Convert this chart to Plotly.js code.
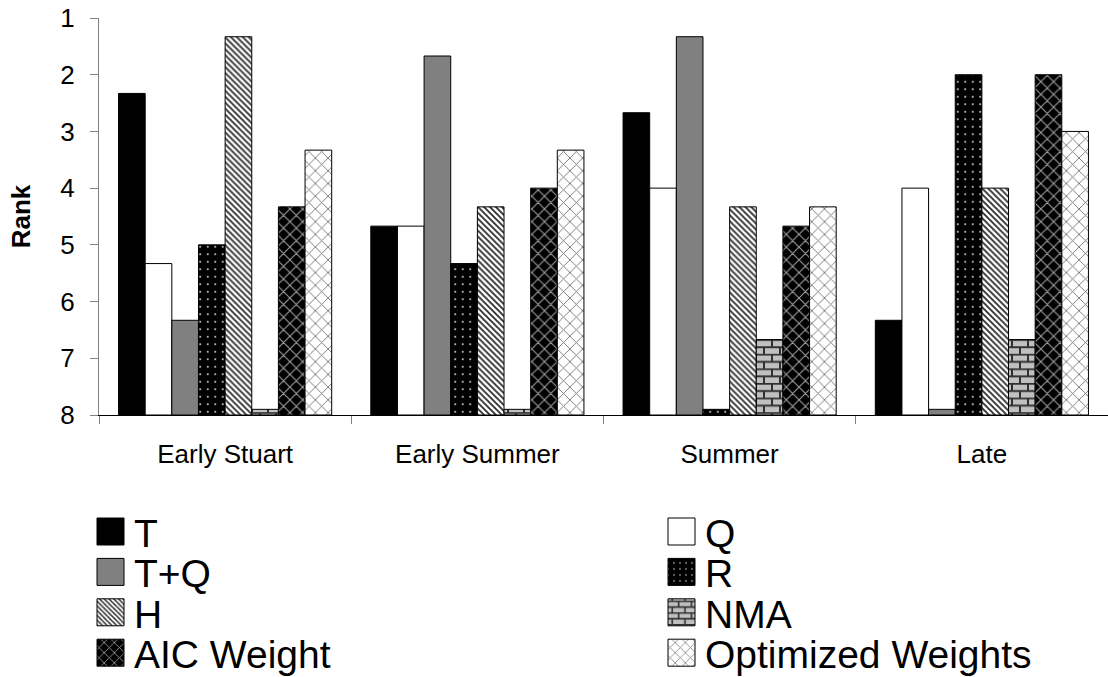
<!DOCTYPE html>
<html>
<head>
<meta charset="utf-8">
<script src="https://cdn.plot.ly/plotly-3.0.1.min.js"></script>
<style>
  html, body { margin: 0; padding: 0; background: #ffffff; overflow: hidden; }
  #chart { width: 1108px; height: 677px; }
</style>
</head>
<body>
<div id="chart"></div>
<script>
// Runs (season groups) on the category axis
const runs = ['Early Stuart', 'Early Summer', 'Summer', 'Late'];

// Mean rank of each model per run (1 = best, 8 = worst)
const rankT       = [2.33, 4.67, 2.67, 6.33];
const rankQ       = [5.33, 4.67, 4.00, 4.00];
const rankTQ      = [6.33, 1.67, 1.33, 7.90];
const rankR       = [5.00, 5.33, 7.90, 2.00];
const rankH       = [1.33, 4.33, 4.33, 4.00];
const rankNMA     = [7.90, 7.90, 6.67, 6.67];
const rankAIC     = [4.33, 4.00, 4.67, 2.00];
const rankOpt     = [3.33, 3.33, 4.33, 3.00];

const seriesNames = ['T', 'Q', 'T+Q', 'R', 'H', 'NMA', 'AIC Weight', 'Optimized Weights'];
const seriesRanks = [rankT, rankQ, rankTQ, rankR, rankH, rankNMA, rankAIC, rankOpt];

// Worst rank: bars hang from here up to each model's rank
const worstRank = 8;

const FONT = 'Arial, "Liberation Sans", sans-serif';

// Fill style of each model's bars
const styles = [
  { color: '#000000' },
  { color: '#ffffff' },
  { color: '#808080' },
  { color: '#000000', pattern: { shape: '.', bgcolor: '#000000', fgcolor: '#e8e8e8', size: 7.5, solidity: 0.05, fillmode: 'replace' } },
  { color: '#ffffff', pattern: { shape: '\\', bgcolor: '#ffffff', fgcolor: '#303030', size: 4.2, solidity: 0.45, fillmode: 'replace' } },
  { color: '#c0c0c0', pattern: { shape: '+', bgcolor: '#c0c0c0', fgcolor: '#303030', size: 8, solidity: 0.15, fillmode: 'replace' } },
  { color: '#000000', pattern: { shape: 'x', bgcolor: '#000000', fgcolor: '#a0a0a0', size: 9, solidity: 0.22, fillmode: 'replace' } },
  { color: '#ffffff', pattern: { shape: 'x', bgcolor: '#ffffff', fgcolor: '#7a7a7a', size: 9, solidity: 0.2, fillmode: 'replace' } }
];

const traces = seriesNames.map((name, i) => {
  const marker = { color: styles[i].color, line: { color: '#000000', width: 1 } };
  if (styles[i].pattern) marker.pattern = styles[i].pattern;
  return {
    type: 'bar',
    name: name,
    x: runs,
    y: seriesRanks[i].map(v => v - worstRank),
    base: worstRank,
    marker: marker,
    hoverinfo: 'skip'
  };
});

const layout = {
  width: 1108,
  height: 677,
  margin: { l: 99, r: 0, t: 18, b: 262, autoexpand: false },
  paper_bgcolor: '#ffffff',
  plot_bgcolor: '#ffffff',
  font: { family: FONT, color: '#000000', size: 26 },
  barmode: 'group',
  bargap: 0.155,
  bargroupgap: 0,
  showlegend: true,
  xaxis: {
    type: 'category',
    categoryorder: 'array',
    categoryarray: runs,
    showline: true,
    linecolor: '#000000',
    linewidth: 1,
    ticks: 'outside',
    tickson: 'boundaries',
    ticklen: 8,
    tickcolor: '#808080',
    tickwidth: 1,
    ticklabelstandoff: 16,
    showgrid: false,
    zeroline: false,
    automargin: false,
    tickfont: { family: FONT, size: 26, color: '#000000' },
    fixedrange: true
  },
  yaxis: {
    range: [8, 1],
    tickmode: 'linear',
    tick0: 1,
    dtick: 1,
    showline: true,
    linecolor: '#808080',
    linewidth: 1,
    ticks: 'outside',
    ticklen: 8,
    tickcolor: '#808080',
    tickwidth: 1,
    ticklabelstandoff: 10,
    showgrid: false,
    zeroline: false,
    automargin: false,
    tickfont: { family: FONT, size: 26, color: '#000000' },
    title: { text: '<b>Rank</b>', font: { family: FONT, size: 26, color: '#000000' }, standoff: 22 },
    fixedrange: true
  },
  legend: {
    orientation: 'h',
    x: 0,
    xanchor: 'left',
    y: 1,
    yanchor: 'top',
    bgcolor: 'rgba(0,0,0,0)',
    borderwidth: 0,
    font: { family: FONT, size: 39, color: '#000000' },
    entrywidth: 0.5,
    entrywidthmode: 'fraction',
    itemclick: false,
    itemdoubleclick: false
  }
};

// Brick tile used for the NMA bars and swatch
function brickify(patternEl) {
  const ns = 'http://www.w3.org/2000/svg';
  const w = 16, h = 14.6;
  patternEl.setAttribute('width', w);
  patternEl.setAttribute('height', h);
  patternEl.setAttribute('patternUnits', 'userSpaceOnUse');
  while (patternEl.firstChild) patternEl.removeChild(patternEl.firstChild);
  const bg = document.createElementNS(ns, 'rect');
  bg.setAttribute('width', w); bg.setAttribute('height', h);
  bg.setAttribute('fill', '#c0c0c0');
  patternEl.appendChild(bg);
  const mortar = document.createElementNS(ns, 'path');
  mortar.setAttribute('d',
    'M0,0.8H' + w + 'M0,' + (h / 2 + 0.8) + 'H' + w +
    'M1,0V' + (h / 2) + 'M' + (w / 2 + 1) + ',' + (h / 2) + 'V' + h);
  mortar.setAttribute('stroke', '#303030');
  mortar.setAttribute('stroke-width', 2);
  mortar.setAttribute('fill', 'none');
  patternEl.appendChild(mortar);
}

function patternOf(el) {
  const f = (el.style && el.style.fill) || el.getAttribute('fill') || '';
  const m = f.match(/#([^'")]+)/);
  return m ? document.getElementById(m[1]) : null;
}

const gd = document.getElementById('chart');
Plotly.newPlot(gd, traces, layout, { displayModeBar: false }).then(() => {
  // bricks on the NMA bars
  const barTraces = gd.querySelectorAll('.barlayer .trace');
  const nmaIdx = seriesNames.indexOf('NMA');
  if (barTraces[nmaIdx]) {
    barTraces[nmaIdx].querySelectorAll('path').forEach(p => {
      const pat = patternOf(p);
      if (pat) brickify(pat);
    });
  }

  // two-column legend below the axis, with large square swatches
  const items = gd.querySelectorAll('.legend .traces');
  const scroll = gd.querySelector('.legend .scrollbox');
  if (scroll) scroll.removeAttribute('clip-path');
  const legendBg = gd.querySelector('.legend .bg');
  if (legendBg) legendBg.style.display = 'none';
  const colStep = 571, rowStep = 40.4;
  items.forEach((g, i) => {
    const col = i % 2, row = Math.floor(i / 2);
    g.setAttribute('transform', 'translate(' + (col * colStep) + ',' + (row * rowStep) + ')');
    const sw = g.querySelector('.legendpoints path');
    if (sw) {
      sw.setAttribute('transform', '');
      sw.setAttribute('d', 'M3,-13.5H30V13.5H3Z');
      sw.style.strokeWidth = '1px';
      sw.style.stroke = '#000000';
      if (i === nmaIdx) {
        const pat = patternOf(sw);
        if (pat) brickify(pat);
      }
    }
  });
  if (items.length) {
    const r = items[0].querySelector('.legendpoints path').getBoundingClientRect();
    const dx = 97 - r.left, dy = 518 - r.top;
    items.forEach((g, i) => {
      const col = i % 2, row = Math.floor(i / 2);
      g.setAttribute('transform', 'translate(' + (col * colStep + dx) + ',' + (row * rowStep + dy) + ')');
    });
  }
});
</script>
</body>
</html>
